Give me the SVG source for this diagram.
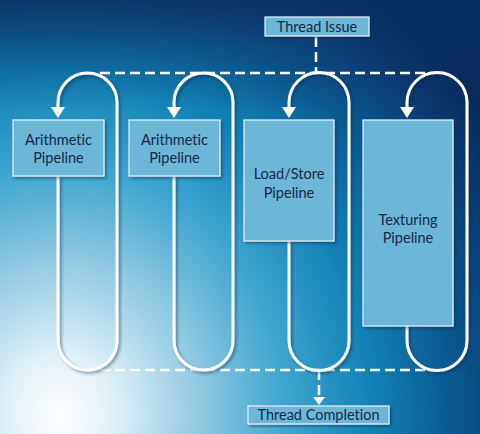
<svg xmlns="http://www.w3.org/2000/svg" width="480" height="434" viewBox="0 0 480 434">
<defs>
<radialGradient id="bg" gradientUnits="userSpaceOnUse" cx="60" cy="415" r="500" gradientTransform="translate(60 415) scale(1 1.1) translate(-60 -415)">
<stop offset="0" stop-color="#ffffff"/>
<stop offset="0.1" stop-color="#e4f2f8"/>
<stop offset="0.25" stop-color="#9fd0e6"/>
<stop offset="0.45" stop-color="#3ea5d0"/>
<stop offset="0.62" stop-color="#1282b6"/>
<stop offset="0.78" stop-color="#0b5a92"/>
<stop offset="0.92" stop-color="#0a3a72"/>
<stop offset="1" stop-color="#082c5e"/>
</radialGradient>
<linearGradient id="top" x1="0" y1="0" x2="0" y2="1" gradientUnits="objectBoundingBox">
<stop offset="0" stop-color="#0a2f62" stop-opacity="0.85"/>
<stop offset="0.45" stop-color="#0a2f62" stop-opacity="0.35"/>
<stop offset="1" stop-color="#0a2f62" stop-opacity="0"/>
</linearGradient>
<filter id="sh" x="-20%" y="-20%" width="140%" height="140%">
<feDropShadow dx="2" dy="2" stdDeviation="1.5" flood-color="#06203f" flood-opacity="0.45"/>
</filter>
<style>
.box{fill:#6cb6d8;stroke:#e8f4fa;stroke-width:1.2;filter:url(#sh)}
.lbl{font-family:"Lato","Noto Sans",sans-serif;font-size:14.5px;fill:#142a44;text-anchor:middle;font-variant-ligatures:none}
.loop{fill:none;stroke:#ffffff;stroke-width:3;filter:url(#sh)}
.dash{fill:none;stroke:#ffffff;stroke-width:2.5;stroke-dasharray:10 5}
.head{fill:#ffffff}
</style>
</defs>
<rect width="480" height="434" fill="url(#bg)"/>
<rect width="480" height="110" fill="url(#top)"/>
<g id="connectors">
<path class="dash" d="M100,73 H430"/>
<path class="dash" d="M316,37 V73"/>
<path class="dash" d="M100,370 H430"/>
<path class="dash" d="M319,370 V398"/>
<path class="head" d="M313,397 L325,397 L319,405 Z"/>
<path class="loop" d="M58,107 V102.5 A29.5,29.5 0 0 1 117,102.5 V340.5 A29.5,29.5 0 0 1 58,340.5 V176"/>
<path class="loop" d="M174,107 V102.5 A29.5,29.5 0 0 1 233,102.5 V340.5 A29.5,29.5 0 0 1 174,340.5 V176"/>
<path class="loop" d="M289,107 V102.5 A30,30 0 0 1 349,102.5 V340.5 A30,30 0 0 1 289,340.5 V241"/>
<path class="loop" d="M407,107 V102.5 A30,30 0 0 1 467,102.5 V340.5 A30,30 0 0 1 407,340.5 V326"/>
<path class="head" d="M51,107 L65,107 L58,118 Z"/>
<path class="head" d="M167,107 L181,107 L174,118 Z"/>
<path class="head" d="M282,107 L296,107 L289,118 Z"/>
<path class="head" d="M400,107 L414,107 L407,118 Z"/>
</g>
<g id="thread-issue">
<rect class="box" x="265" y="17" width="104" height="19"/>
<text class="lbl" x="317" y="31.5">Thread Issue</text>
</g>
<g id="arith1">
<rect class="box" x="13" y="120" width="91" height="56"/>
<text class="lbl" x="58.5" y="145">Arithmetic</text>
<text class="lbl" x="58.5" y="163">Pipeline</text>
</g>
<g id="arith2">
<rect class="box" x="129" y="120" width="91" height="56"/>
<text class="lbl" x="174.5" y="145">Arithmetic</text>
<text class="lbl" x="174.5" y="163">Pipeline</text>
</g>
<g id="loadstore">
<rect class="box" x="244" y="120" width="90" height="121"/>
<text class="lbl" x="289" y="179">Load/Store</text>
<text class="lbl" x="289" y="198">Pipeline</text>
</g>
<g id="texturing">
<rect class="box" x="363" y="120" width="90" height="206"/>
<text class="lbl" x="408" y="225">Texturing</text>
<text class="lbl" x="408" y="243">Pipeline</text>
</g>
<g id="thread-completion">
<rect class="box" x="248" y="406" width="141" height="18"/>
<text class="lbl" x="318.5" y="420">Thread Completion</text>
</g>
</svg>
